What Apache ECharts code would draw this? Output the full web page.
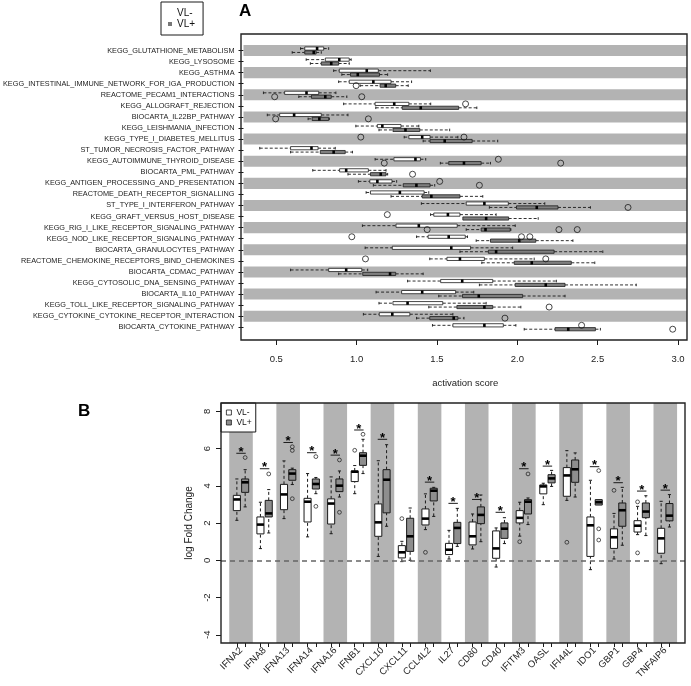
<!DOCTYPE html>
<html><head><meta charset="utf-8">
<script src="https://cdn.jsdelivr.net/npm/echarts@6/dist/echarts.min.js"></script>
<style>html,body{margin:0;padding:0;background:#fff}#c{width:691px;height:686px}</style>
</head><body><div id="c"></div>
<script>
// ---------- Panel A data ----------
const pathways = [
 'KEGG_GLUTATHIONE_METABOLISM','KEGG_LYSOSOME','KEGG_ASTHMA',
 'KEGG_INTESTINAL_IMMUNE_NETWORK_FOR_IGA_PRODUCTION','REACTOME_PECAM1_INTERACTIONS',
 'KEGG_ALLOGRAFT_REJECTION','BIOCARTA_IL22BP_PATHWAY','KEGG_LEISHMANIA_INFECTION',
 'KEGG_TYPE_I_DIABETES_MELLITUS','ST_TUMOR_NECROSIS_FACTOR_PATHWAY','KEGG_AUTOIMMUNE_THYROID_DISEASE',
 'BIOCARTA_PML_PATHWAY','KEGG_ANTIGEN_PROCESSING_AND_PRESENTATION','REACTOME_DEATH_RECEPTOR_SIGNALLING',
 'ST_TYPE_I_INTERFERON_PATHWAY','KEGG_GRAFT_VERSUS_HOST_DISEASE','KEGG_RIG_I_LIKE_RECEPTOR_SIGNALING_PATHWAY',
 'KEGG_NOD_LIKE_RECEPTOR_SIGNALING_PATHWAY','BIOCARTA_GRANULOCYTES_PATHWAY',
 'REACTOME_CHEMOKINE_RECEPTORS_BIND_CHEMOKINES','BIOCARTA_CDMAC_PATHWAY','KEGG_CYTOSOLIC_DNA_SENSING_PATHWAY',
 'BIOCARTA_IL10_PATHWAY','KEGG_TOLL_LIKE_RECEPTOR_SIGNALING_PATHWAY','KEGG_CYTOKINE_CYTOKINE_RECEPTOR_INTERACTION',
 'BIOCARTA_CYTOKINE_PATHWAY'];
// [lower whisker, Q1, median, Q3, upper whisker]
const pathVLminus = [
 [0.651,0.677,0.754,0.795,0.826],[0.686,0.805,0.892,0.954,0.966],[0.857,0.892,1.063,1.135,1.459],
 [0.888,0.954,1.104,1.214,1.342],[0.420,0.552,0.688,0.764,0.871],[0.919,1.115,1.234,1.325,1.461],
 [0.444,0.521,0.611,0.780,0.946],[0.995,1.129,1.160,1.276,1.387],[1.296,1.325,1.408,1.457,1.630],
 [0.397,0.589,0.719,0.760,0.867],[1.115,1.232,1.366,1.397,1.430],[0.727,0.894,0.935,1.073,1.183],
 [1.011,1.082,1.129,1.220,1.249],[1.059,1.086,1.269,1.420,1.449],[1.403,1.682,1.795,1.944,2.171],
 [1.460,1.480,1.568,1.643,1.868],[1.036,1.245,1.387,1.626,1.987],[1.373,1.445,1.573,1.676,1.690],
 [1.053,1.222,1.589,1.709,1.971],[1.455,1.562,1.643,1.795,2.105],[0.589,0.826,0.935,1.032,1.069],
 [1.317,1.523,1.657,1.847,2.243],[1.121,1.280,1.408,1.616,1.729],[1.139,1.226,1.317,1.536,1.806],
 [1.042,1.141,1.222,1.331,1.599],[1.472,1.599,1.795,1.913,1.991]];
const pathVLplus = [
 [0.599,0.677,0.733,0.748,0.780],[0.712,0.780,0.842,0.888,0.954],[0.908,0.962,1.007,1.142,1.193],
 [1.022,1.146,1.181,1.243,1.321],[0.640,0.719,0.805,0.842,0.939],[1.119,1.284,1.399,1.635,1.748],
 [0.698,0.723,0.768,0.826,0.830],[1.139,1.226,1.304,1.393,1.579],[1.414,1.457,1.548,1.719,1.878],
 [0.589,0.774,0.857,0.929,0.974],[1.521,1.573,1.668,1.775,1.833],[0.946,1.086,1.150,1.183,1.193],
 [1.104,1.290,1.372,1.457,1.486],[1.214,1.408,1.465,1.643,1.785],[1.826,1.995,2.121,2.253,2.455],
 [1.661,1.661,1.806,1.946,2.130],[1.682,1.775,1.802,1.956,1.960],[1.744,1.833,2.012,2.115,2.346],
 [1.643,1.820,1.868,2.229,2.532],[1.779,1.981,2.090,2.336,2.482],[0.888,1.038,1.208,1.243,1.414],
 [1.764,1.987,2.177,2.297,2.740],[1.511,1.659,1.760,2.033,2.297],[1.449,1.624,1.795,1.847,2.022],
 [1.373,1.455,1.604,1.630,1.668],[2.043,2.235,2.317,2.486,2.517]];
// [pathway number (1 = top), score]
const pathOutMinus = [[6,1.678],[9,1.026],[9,1.668],[11,1.882],[13,1.517],[16,1.191],[18,0.970],
 [18,2.026],[18,2.078],[20,1.055],[20,2.177],[26,2.400]];
const pathOutPlus = [[4,0.997],[5,0.490],[5,1.032],[7,0.496],[7,1.073],[11,1.172],[11,2.270],[12,1.348],
 [13,1.764],[15,2.689],[17,1.439],[17,2.259],[17,2.373],[24,2.198],[25,1.923],[26,2.967]];
const xTicksA = [0.5,1.0,1.5,2.0,2.5,3.0];

// ---------- Panel B data ----------
const genes = ['IFNA2','IFNA8','IFNA13','IFNA14','IFNA16','IFNB1','CXCL10','CXCL11','CCL4L2','IL27',
 'CD80','CD40','IFITM3','OASL','IFI44L','IDO1','GBP1','GBP4','TNFAIP6'];
const geneVLminus = [
 [2.15,2.67,3.27,3.49,4.37],[0.63,1.42,1.92,2.33,3.12],[2.24,2.72,3.54,4.08,5.34],[1.26,2.06,3.15,3.33,4.66],
 [1.43,1.95,3.05,3.30,4.48],[3.58,4.23,4.76,4.80,5.09],[0.21,1.29,2.04,3.03,5.35],[-0.07,0.13,0.43,0.79,1.02],
 [1.65,1.90,2.24,2.76,3.57],[0.07,0.31,0.57,0.91,1.61],[0.61,0.83,1.29,2.06,2.49],[-0.36,0.11,0.64,1.58,1.74],
 [1.30,2.01,2.28,2.67,3.12],[2.99,3.57,3.97,4.05,4.14],[3.22,3.44,4.56,4.98,5.89],[-0.50,0.21,1.88,2.33,4.30],
 [0.07,0.64,1.24,1.69,2.52],[1.38,1.52,1.86,2.13,2.90],[-0.18,0.38,1.18,1.72,3.17]];
const geneVLplus = [
 [2.87,3.65,4.19,4.37,4.87],[1.47,2.33,2.52,3.22,3.80],[4.07,4.30,4.66,4.87,4.95],[3.58,3.83,4.10,4.37,4.45],
 [3.40,3.69,4.01,4.37,4.80],[4.66,5.10,5.62,5.78,6.50],[1.83,2.55,4.33,4.87,6.21],[0.00,0.48,1.29,2.26,2.81],
 [2.36,3.19,3.74,3.87,3.92],[0.75,0.90,1.74,2.04,2.79],[1.00,1.97,2.44,2.87,3.51],[0.90,1.18,1.70,2.01,2.29],
 [1.92,2.49,3.15,3.26,3.35],[3.97,4.16,4.40,4.60,4.83],[3.40,4.19,4.89,5.39,5.77],[2.97,2.97,3.12,3.26,3.26],
 [0.81,1.83,2.69,3.08,3.92],[1.33,2.29,2.62,3.08,3.47],[1.79,2.12,2.40,3.05,3.53]];
// [gene number, log fold change]
const geneOutMinus = [[6,5.91],[8,2.24],[9,0.43],[13,1.00],[15,0.97],[17,3.76],[18,3.14],[18,0.40]];
const geneOutPlus = [[1,5.52],[2,4.64],[3,6.10],[3,5.90],[3,3.31],[4,5.57],[4,2.90],[5,5.39],[5,2.58],
 [6,6.77],[13,4.64],[16,4.82],[16,1.69],[16,1.09]];
// significance marks: [gene number, level of bar]
const geneStars = [[1,5.75],[2,4.92],[3,6.33],[4,5.78],[5,5.65],[6,7.0],[7,6.5],[9,4.2],[10,3.06],
 [11,3.27],[12,2.58],[13,4.92],[14,5.06],[16,5.03],[17,4.17],[18,3.72],[19,3.77]];
const yTicksB = [-4,-2,0,2,4,6,8];

// ---------- layout / style ----------
const FONT = 'Liberation Sans, Arial, sans-serif';
const GA = {left:241, top:34, width:446, height:306};
const GB = {left:221, top:403, width:464, height:240};
const STRIPE = '#b3b3b3', INK = '#1a1a1a';
const OFF = 0.176;

function hBox(fill){
  return function(params, api){
    const y = api.value(0);
    const v = [1,2,3,4,5].map(i => api.coord([api.value(i), y]));
    const cy = v[0][1];
    const h = Math.abs(api.size([0, 0.29])[1]);
    const ch = [];
    const dash = {stroke:INK, lineWidth:0.9, lineDash:[3,2], fill:null};
    const solid = {stroke:INK, lineWidth:0.9, fill:null};
    if (v[1][0]-v[0][0] > 0.6) {
      ch.push({type:'line', shape:{x1:v[0][0],y1:cy,x2:v[1][0],y2:cy}, style:dash});
      ch.push({type:'line', shape:{x1:v[0][0],y1:cy-h*0.4,x2:v[0][0],y2:cy+h*0.4}, style:solid});
    }
    if (v[4][0]-v[3][0] > 0.6) {
      ch.push({type:'line', shape:{x1:v[3][0],y1:cy,x2:v[4][0],y2:cy}, style:dash});
      ch.push({type:'line', shape:{x1:v[4][0],y1:cy-h*0.4,x2:v[4][0],y2:cy+h*0.4}, style:solid});
    }
    ch.push({type:'rect', shape:{x:v[1][0], y:cy-h/2, width:v[3][0]-v[1][0], height:h}, style:{fill:fill, stroke:INK, lineWidth:0.8}});
    ch.push({type:'line', shape:{x1:v[2][0],y1:cy-h/2,x2:v[2][0],y2:cy+h/2}, style:{stroke:'#000', lineWidth:2.6}});
    return {type:'group', children:ch};
  };
}
function vBox(fill){
  return function(params, api){
    const x = api.value(0);
    const v = [1,2,3,4,5].map(i => api.coord([x, api.value(i)]));
    const cx = v[0][0];
    const w = Math.abs(api.size([0.3, 0])[0]);
    const ch = [];
    const dash = {stroke:INK, lineWidth:1, lineDash:[3,2.5], fill:null};
    const solid = {stroke:INK, lineWidth:1, fill:null};
    if (v[0][1]-v[1][1] > 0.6) {
      ch.push({type:'line', shape:{x1:cx,y1:v[0][1],x2:cx,y2:v[1][1]}, style:dash});
      ch.push({type:'line', shape:{x1:cx-w*0.22,y1:v[0][1],x2:cx+w*0.22,y2:v[0][1]}, style:solid});
    }
    if (v[3][1]-v[4][1] > 0.6) {
      ch.push({type:'line', shape:{x1:cx,y1:v[3][1],x2:cx,y2:v[4][1]}, style:dash});
      ch.push({type:'line', shape:{x1:cx-w*0.22,y1:v[4][1],x2:cx+w*0.22,y2:v[4][1]}, style:solid});
    }
    ch.push({type:'rect', shape:{x:cx-w/2, y:v[3][1], width:w, height:v[1][1]-v[3][1]}, style:{fill:fill, stroke:INK, lineWidth:1}});
    ch.push({type:'line', shape:{x1:cx-w/2,y1:v[2][1],x2:cx+w/2,y2:v[2][1]}, style:{stroke:'#000', lineWidth:2.6}});
    return {type:'group', children:ch};
  };
}

const rowsA = pathways.map((_, i) => i + 1);
const catsB = genes.map((_, i) => i + 1);

const option = {
  animation:false,
  textStyle:{fontFamily:FONT},
  title:[
    {text:'A', left:239, top:3, padding:0, textStyle:{fontSize:17, fontWeight:'bold', color:'#000', fontFamily:FONT}},
    {text:'B', left:78, top:403, padding:0, textStyle:{fontSize:17, fontWeight:'bold', color:'#000', fontFamily:FONT}}
  ],
  legend:[
    {orient:'vertical', left:161, top:2, padding:[6,8,6,7], itemWidth:4, itemHeight:4, itemGap:1, itemTextGap:5,
     borderColor:INK, borderWidth:1, selectedMode:false,
     textStyle:{fontSize:10, color:'#111', fontFamily:FONT},
     data:[{name:'VL-', icon:'rect', itemStyle:{color:'#ffffff', borderWidth:0}},
           {name:'VL+', icon:'rect', itemStyle:{color:'#777777', borderWidth:0}}]},
    {orient:'vertical', left:221, top:403, padding:[5,4,5,5], itemWidth:5, itemHeight:5, itemGap:1, itemTextGap:3,
     borderColor:INK, borderWidth:1, selectedMode:false, backgroundColor:'#fff',
     textStyle:{fontSize:8.5, color:'#111', fontFamily:FONT},
     data:[{name:'VL-', icon:'rect', itemStyle:{color:'#ffffff', borderColor:INK, borderWidth:0.8}},
           {name:'VL+', icon:'rect', itemStyle:{color:'#8e8e8e', borderColor:INK, borderWidth:0.8}}]}
  ],
  grid:[
    {left:GA.left, top:GA.top, width:GA.width, height:GA.height},
    {left:GB.left, top:GB.top, width:GB.width, height:GB.height}
  ],
  xAxis:[
    {type:'value', gridIndex:0, position:'bottom', min:0.296, max:3.056, splitLine:{show:false}, axisLine:{show:false, onZero:false},
     axisTick:{show:true, customValues:xTicksA, length:5, lineStyle:{color:INK}},
     axisLabel:{customValues:xTicksA, formatter:v => v.toFixed(1), fontSize:9.5, color:'#222', margin:14},
     name:'activation score', nameLocation:'middle', nameGap:38, nameTextStyle:{fontSize:9.5, color:'#222'}},
    {type:'value', gridIndex:1, position:'bottom', min:0.151, max:19.836, splitLine:{show:false}, axisLine:{show:false, onZero:false},
     axisTick:{show:true, customValues:catsB.flatMap(c => [c-OFF, c+OFF]), length:4, lineStyle:{color:INK}},
     axisLabel:{customValues:catsB, formatter:v => genes[Math.round(v)-1], rotate:45, fontSize:9.5, color:'#222', margin:6}}
  ],
  yAxis:[
    {type:'value', gridIndex:0, position:'left', inverse:true, min:-0.49, max:27.15, splitLine:{show:false}, axisLine:{show:false, onZero:false},
     axisTick:{show:true, customValues:rowsA, length:5, lineStyle:{color:INK}},
     axisLabel:{customValues:rowsA, formatter:v => pathways[Math.round(v)-1], fontSize:7.3, color:'#222', margin:9}},
    {type:'value', gridIndex:1, position:'left', min:-4.44, max:8.45, splitLine:{show:false}, axisLine:{show:false, onZero:false},
     axisTick:{show:true, customValues:yTicksB, length:5, lineStyle:{color:INK}},
     axisLabel:{customValues:yTicksB, rotate:90, fontSize:9.5, color:'#222', margin:9},
     name:'log Fold Change', nameLocation:'middle', nameGap:27, nameRotate:90, nameTextStyle:{fontSize:10, color:'#222'}}
  ],
  graphic:[
    {type:'rect', z:100, silent:true, shape:{x:GA.left, y:GA.top, width:GA.width, height:GA.height}, style:{fill:null, stroke:'#222', lineWidth:1.4}},
    {type:'rect', z:100, silent:true, shape:{x:GB.left, y:GB.top, width:GB.width, height:GB.height}, style:{fill:null, stroke:'#222', lineWidth:1.4}}
  ],
  series:[
    // Panel A stripes
    {type:'custom', xAxisIndex:0, yAxisIndex:0, silent:true, z:1,
     data:rowsA.filter(r => r % 2 === 1).map(r => [1, r]), encode:{x:0, y:1},
     renderItem:(params, api) => {
       const cs = params.coordSys;
       const r = api.value(1);
       const y1 = api.coord([1, r-0.5])[1], y2 = api.coord([1, r+0.5])[1];
       return {type:'rect', shape:{x:cs.x, y:Math.min(y1,y2), width:cs.width, height:Math.abs(y2-y1)}, style:{fill:STRIPE}};
     }},
    {name:'VL-', type:'custom', xAxisIndex:0, yAxisIndex:0, z:3, itemStyle:{color:'#fff'},
     data:pathVLminus.map((s, i) => [i+1-OFF, ...s]), encode:{y:0, x:[1,2,3,4,5]}, renderItem:hBox('#ffffff')},
    {name:'VL+', type:'custom', xAxisIndex:0, yAxisIndex:0, z:3, itemStyle:{color:'#777'},
     data:pathVLplus.map((s, i) => [i+1+OFF, ...s]), encode:{y:0, x:[1,2,3,4,5]}, renderItem:hBox('#7f7f7f')},
    {type:'scatter', xAxisIndex:0, yAxisIndex:0, z:4, symbol:'circle', symbolSize:6,
     itemStyle:{color:'rgba(0,0,0,0)', borderColor:INK, borderWidth:1},
     data:pathOutMinus.map(o => [o[1], o[0]-OFF]).concat(pathOutPlus.map(o => [o[1], o[0]+OFF]))},
    // Panel B stripes
    {type:'custom', xAxisIndex:1, yAxisIndex:1, silent:true, z:1,
     data:catsB.filter(c => c % 2 === 1).map(c => [c, 0]), encode:{x:0, y:1},
     renderItem:(params, api) => {
       const cs = params.coordSys;
       const c = api.value(0);
       const x1 = api.coord([c-0.5, 0])[0], x2 = api.coord([c+0.5, 0])[0];
       return {type:'rect', shape:{x:x1, y:cs.y, width:x2-x1, height:cs.height}, style:{fill:STRIPE}};
     },
     markLine:{silent:true, symbol:'none', label:{show:false}, data:[{yAxis:0}],
       lineStyle:{type:[5,4], color:'#666', width:1.5}}},
    {name:'VL-', type:'custom', xAxisIndex:1, yAxisIndex:1, z:3, itemStyle:{color:'#fff'},
     data:geneVLminus.map((s, i) => [i+1-OFF, ...s]), encode:{x:0, y:[1,2,3,4,5]}, renderItem:vBox('#ffffff')},
    {name:'VL+', type:'custom', xAxisIndex:1, yAxisIndex:1, z:3, itemStyle:{color:'#8e8e8e'},
     data:geneVLplus.map((s, i) => [i+1+OFF, ...s]), encode:{x:0, y:[1,2,3,4,5]}, renderItem:vBox('#8e8e8e')},
    {type:'scatter', xAxisIndex:1, yAxisIndex:1, z:4, symbol:'circle', symbolSize:3.8,
     itemStyle:{color:'rgba(0,0,0,0)', borderColor:INK, borderWidth:0.9},
     data:geneOutMinus.map(o => [o[0]-OFF, o[1]]).concat(geneOutPlus.map(o => [o[0]+OFF, o[1]]))},
    {type:'custom', xAxisIndex:1, yAxisIndex:1, z:4, silent:true,
     data:geneStars, encode:{x:0, y:1},
     renderItem:(params, api) => {
       const c = api.value(0), y = api.value(1);
       const a = api.coord([c-0.2, y]), b = api.coord([c+0.2, y]), m = api.coord([c, y]);
       return {type:'group', children:[
         {type:'line', shape:{x1:a[0],y1:a[1],x2:b[0],y2:b[1]}, style:{stroke:INK, lineWidth:1}},
         {type:'text', x:m[0], y:m[1]-1, style:{text:'*', fontSize:13, fontWeight:'bold', fontFamily:FONT,
           align:'center', verticalAlign:'middle', fill:'#000'}}
       ]};
     }}
  ]
};
const chart = echarts.init(document.getElementById('c'), null, {renderer:'canvas'});
chart.setOption(option);
</script>
</body></html>
